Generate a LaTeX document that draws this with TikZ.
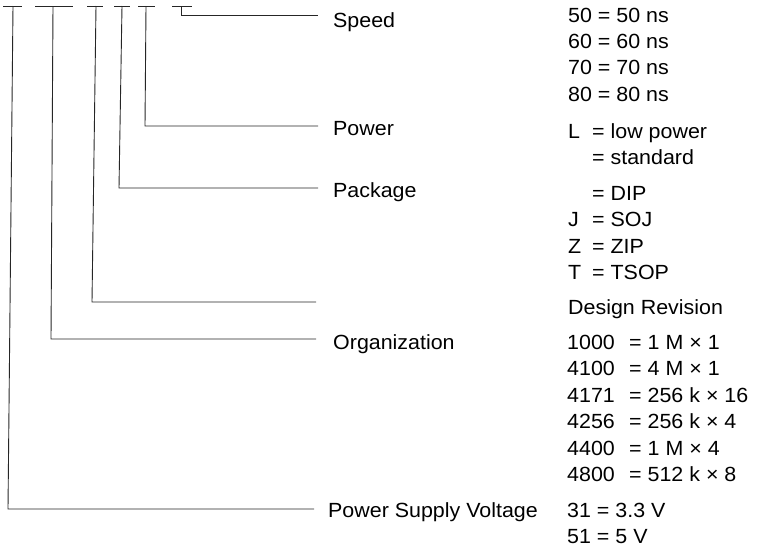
\documentclass[tikz,border=0pt]{standalone}
\usepackage{fontspec}
\setmainfont[FakeStretch=1.045]{Liberation Sans}
\begin{document}
\begin{tikzpicture}[x=1pt,y=-1pt,
  lbl/.style={anchor=base west, inner sep=0pt, font=\fontsize{20.5}{24}\selectfont, text=black},
  wire/.style={draw=black!85, line width=0.9pt},
  bar/.style={draw=black!85, line width=0.9pt}]
\useasboundingbox (0,0) rectangle (759,555);

% top bars (one per field)
\draw[bar] (3,6) -- (22,6);
\draw[bar] (35,6) -- (73,6);
\draw[bar] (87,6) -- (103,6);
\draw[bar] (114,6) -- (130,6);
\draw[bar] (138,6) -- (155,6);
\draw[bar] (172,6) -- (192,6);

\coordinate (t1) at (13,6);
\coordinate (t2) at (53,6);
\coordinate (t3) at (96,6);
\coordinate (t4) at (122,6);
\coordinate (t5) at (146,6);
\coordinate (t6) at (181,6);

% left labels
\node[lbl] (speed) at (333,27.5) {Speed};
\node[lbl] (power) at (333,135) {Power};
\node[lbl] (package) at (333,197.5) {Package};
\node[lbl] (org) at (333,349.5) {Organization};
\node[lbl] (psv) at (328,517.5) {Power Supply Voltage};

% line ends
\coordinate (e6) at (318,15);
\coordinate (e5) at (318,126);
\coordinate (e4) at (318,188);
\coordinate (e3) at (316,302);
\coordinate (e2) at (316,339);
\coordinate (e1) at (314,509);

\coordinate (c6) at (181,15);
\coordinate (c5) at (145,126);
\coordinate (c4) at (119,188);
\coordinate (c3) at (92,302);
\coordinate (c2) at (51,339);
\coordinate (c1) at (8,509);

\draw[wire] (t6) -- (c6) -- (e6);
\draw[wire] (t5) -- (c5) -- (e5);
\draw[wire] (t4) -- (c4) -- (e4);
\draw[wire] (t3) -- (c3) -- (e3);
\draw[wire] (t2) -- (c2) -- (e2);
\draw[wire] (t1) -- (c1) -- (e1);

% right column
\node[lbl] (s50) at (568,22) {50 = 50 ns};
\node[lbl] (s60) at (568,48.4) {60 = 60 ns};
\node[lbl] (s70) at (568,74.8) {70 = 70 ns};
\node[lbl] (s80) at (568,101.2) {80 = 80 ns};

\node[lbl] (kL) at (568,138.5) {L};
\node[lbl] (vL) at (592,138.5) {= low power};
\node[lbl] (vstd) at (592,164.9) {= standard};

\node[lbl] (vdip) at (592,200.5) {= DIP};
\node[lbl] (kJ) at (568,226.9) {J};
\node[lbl] (vJ) at (592,226.9) {= SOJ};
\node[lbl] (kZ) at (568,253.3) {Z};
\node[lbl] (vZ) at (592,253.3) {= ZIP};
\node[lbl] (kT) at (568,279.7) {T};
\node[lbl] (vT) at (592,279.7) {= TSOP};

\node[lbl] (dr) at (568,314) {Design Revision};

\node[lbl] (k1000) at (567,349.5) {1000};
\node[lbl] (v1000) at (629,349.5) {= 1 M × 1};
\node[lbl] (k4100) at (567,375.9) {4100};
\node[lbl] (v4100) at (629,375.9) {= 4 M × 1};
\node[lbl] (k4171) at (567,402.3) {4171};
\node[lbl] (v4171) at (629,402.3) {= 256 k × 16};
\node[lbl] (k4256) at (567,428.7) {4256};
\node[lbl] (v4256) at (629,428.7) {= 256 k × 4};
\node[lbl] (k4400) at (567,455.1) {4400};
\node[lbl] (v4400) at (629,455.1) {= 1 M × 4};
\node[lbl] (k4800) at (567,481.5) {4800};
\node[lbl] (v4800) at (629,481.5) {= 512 k × 8};

\node[lbl] (v31) at (567,517.5) {31 = 3.3 V};
\node[lbl] (v51) at (567,543.9) {51 = 5 V};
\end{tikzpicture}
\end{document}
